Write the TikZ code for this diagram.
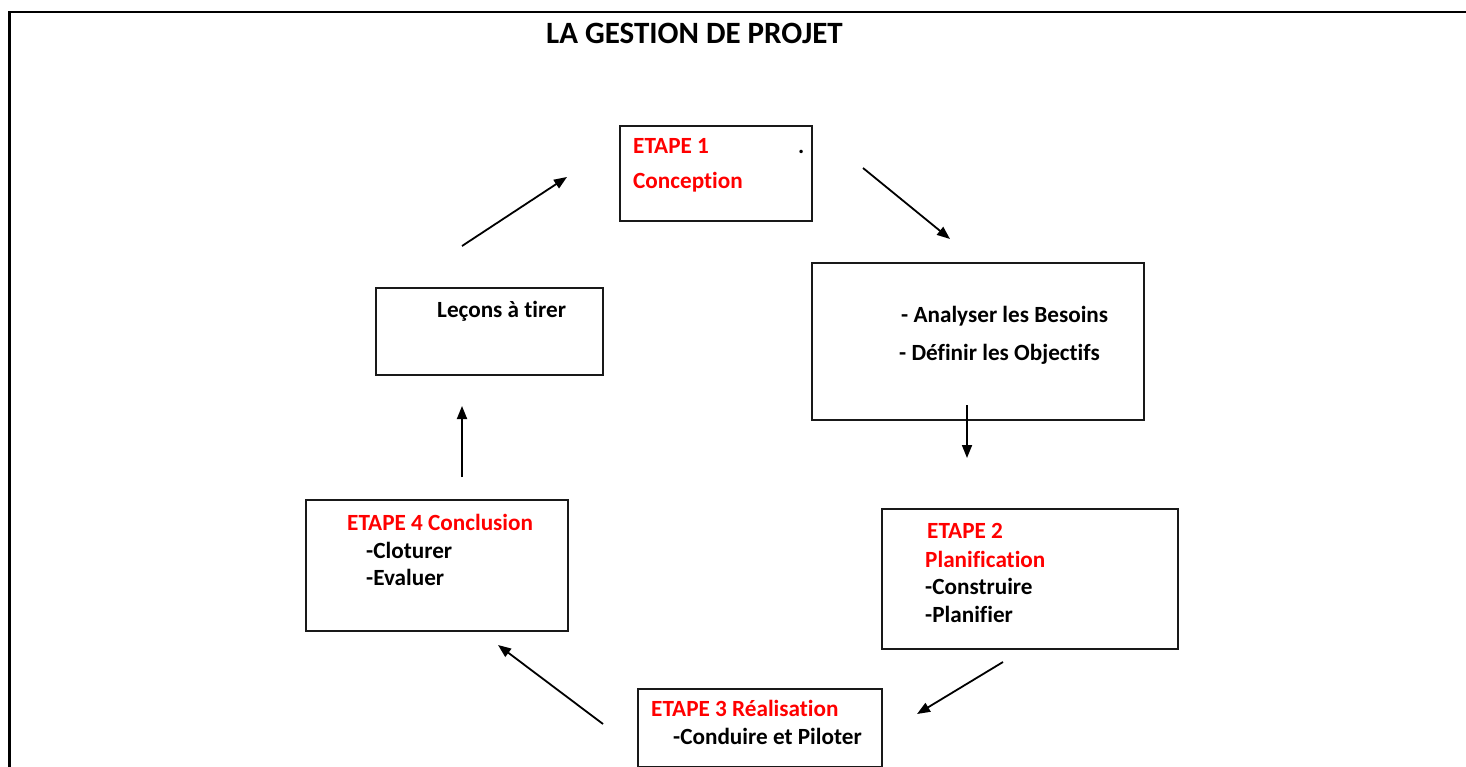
\documentclass[tikz,border=0pt]{standalone}
\usepackage{fontspec}
\setmainfont[Ligatures={NoCommon}]{Carlito}
\usetikzlibrary{arrows.meta}
\definecolor{stepred}{RGB}{255,0,0}
\begin{document}
\begin{tikzpicture}[x=1pt,y=-1pt,
  boxnode/.style={draw=black!90,line width=1.7pt,rectangle,anchor=north west,inner sep=0pt},
  txt/.style={anchor=base west,inner sep=0pt,font=\bfseries\fontsize{23.2}{23.2}\selectfont},
  redtxt/.style={txt,text=stepred},
  flow/.style={line width=1.8pt,-{Triangle[length=13pt,width=10pt]}}]
\useasboundingbox (0,0) rectangle (1466,767);
% frame
\draw[line width=2.8pt] (9.2,767) -- (9.2,12) -- (1466,12);
% title
\node[anchor=base west,inner sep=0pt,font=\bfseries\fontsize{31}{31}\selectfont] (title) at (546,44) {LA GESTION DE PROJET};
% boxes
\node[boxnode,minimum width=192pt,minimum height=95pt] (b1) at (619,125) {};
\node[boxnode,minimum width=332pt,minimum height=157pt] (ba) at (811,262) {};
\node[boxnode,minimum width=227pt,minimum height=87pt] (bl) at (375,287) {};
\node[boxnode,minimum width=262pt,minimum height=131pt] (b4) at (305,499) {};
\node[boxnode,minimum width=296pt,minimum height=140pt] (b2) at (881,508) {};
\node[boxnode,minimum width=244pt,minimum height=78pt] (b3) at (637,688) {};
% texts
\node[redtxt] (t1a) at (633,154) {ETAPE 1};
\node[redtxt] (t1b) at (633,189) {Conception};
\node[txt] (t1dot) at (798,154) {.};
\node[txt] (ta1) at (901,322) {- Analyser les Besoins};
\node[txt] (ta2) at (899,360) {- Définir les Objectifs};
\node[txt] (tl) at (437,317) {Leçons à tirer};
\node[redtxt] (t4a) at (347,530) {ETAPE 4 Conclusion};
\node[txt] (t4b) at (366,558) {-Cloturer};
\node[txt] (t4c) at (366,585) {-Evaluer};
\node[redtxt] (t2a) at (927,538) {ETAPE 2};
\node[redtxt] (t2b) at (925,567) {Planification};
\node[txt] (t2c) at (925,594) {-Construire};
\node[txt] (t2d) at (925,622) {-Planifier};
\node[redtxt] (t3a) at (651,716) {ETAPE 3 Réalisation};
\node[txt] (t3b) at (673,744) {-Conduire et Piloter};
% arrow ends
\coordinate (a1s) at (462,246); \coordinate (a1e) at (567,177);
\coordinate (a2s) at (863,168); \coordinate (a2e) at (950,239);
\coordinate (a3s) at (967,405); \coordinate (a3e) at (967,458);
\coordinate (a4s) at (1003,662); \coordinate (a4e) at (917,714);
\coordinate (a5s) at (603,724); \coordinate (a5e) at (498,645);
\coordinate (a6s) at (462,477); \coordinate (a6e) at (462,406);
\draw[flow] (a1s) -- (a1e);
\draw[flow] (a2s) -- (a2e);
\draw[flow] (a3s) -- (a3e);
\draw[flow] (a4s) -- (a4e);
\draw[flow] (a5s) -- (a5e);
\draw[flow] (a6s) -- (a6e);
\end{tikzpicture}
\end{document}
